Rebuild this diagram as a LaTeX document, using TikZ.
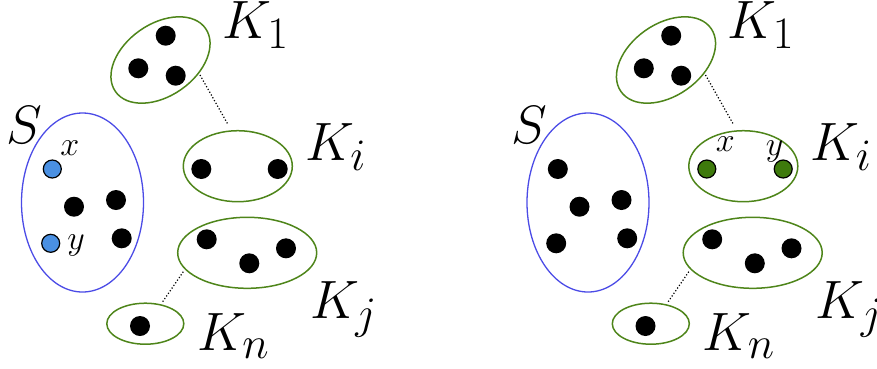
\documentclass[tikz,border=0pt]{standalone}
\usetikzlibrary{shapes.geometric}
\definecolor{setblue}{HTML}{4B4BE6}
\definecolor{kgreen}{HTML}{4E851A}
\definecolor{dotgreen}{HTML}{3E7A0C}
\definecolor{dotblue}{HTML}{4A90E2}
\begin{document}
\begin{tikzpicture}[x=1pt,y=-1pt,
  grp/.style={ellipse, draw=kgreen, line width=1.5pt, inner sep=0pt},
  sset/.style={ellipse, draw=setblue, line width=1.3pt, inner sep=0pt},
  vtx/.style={circle, fill=black, inner sep=0pt, minimum size=20pt},
  bvtx/.style={circle, fill=dotblue, draw=black, line width=1.2pt, inner sep=0pt, minimum size=18pt},
  gvtx/.style={circle, fill=dotgreen, draw=black, line width=1.2pt, inner sep=0pt, minimum size=18pt},
  big/.style={anchor=base west, inner sep=0pt, font=\Huge, scale=2.17},
  small/.style={anchor=base west, inner sep=0pt, font=\LARGE, scale=1.97},
  dots/.style={dotted, line width=1.2pt}]
\useasboundingbox (0,0) rectangle (877,368);
% ---------------- left panel ----------------
\node[sset, minimum width=122pt, minimum height=179pt] (lS) at (82.5,202.5) {};
\node[grp, minimum width=110pt, minimum height=72pt, rotate=35] (lK1) at (160.5,60) {};
\node[grp, minimum width=109pt, minimum height=71pt] (lKi) at (237.8,166.2) {};
\node[grp, minimum width=139pt, minimum height=71pt] (lKj) at (247.2,252.8) {};
\node[grp, minimum width=77pt, minimum height=41pt] (lKn) at (145.3,323.7) {};
\node[big] (lSl) at (6,143) {$S$};
\node[big] (lK1l) at (222,38.3) {$K_1$};
\node[big] (lKil) at (305,160) {$K_i$};
\node[big] (lKjl) at (310,318) {$K_j$};
\node[big] (lKnl) at (197,350) {$K_n$};
\node[small] (lxl) at (60,155) {$x$};
\node[small] (lyl) at (67,249) {$y$};
\node[bvtx] (lx) at (52.3,169) {};
\node[bvtx] (ly) at (50.7,243.3) {};
\node[vtx] (ls1) at (74,206.7) {};
\node[vtx] (ls2) at (116,200) {};
\node[vtx] (ls3) at (121.7,238.3) {};
\node[vtx] (l11) at (165.7,35.7) {};
\node[vtx] (l12) at (138.3,68.3) {};
\node[vtx] (l13) at (175.7,75.7) {};
\node[vtx] (li1) at (201.3,169) {};
\node[vtx] (li2) at (277.7,169) {};
\node[vtx] (lj1) at (206.7,239.3) {};
\node[vtx] (lj2) at (249.3,263.3) {};
\node[vtx] (lj3) at (286,248.3) {};
\node[vtx] (ln1) at (140,326) {};
\coordinate (la1) at (200,75);
\coordinate (la2) at (227.7,124);
\coordinate (lb1) at (183.3,271.7);
\coordinate (lb2) at (162.7,301.7);
\draw[dots] (la1) -- (la2);
\draw[dots] (lb1) -- (lb2);
% ---------------- right panel ----------------
\begin{scope}[xshift=505.5pt]
\node[sset, minimum width=122pt, minimum height=179pt] (rS) at (82.5,202.5) {};
\node[grp, minimum width=110pt, minimum height=72pt, rotate=35] (rK1) at (160.5,60) {};
\node[grp, minimum width=109pt, minimum height=71pt] (rKi) at (237.8,166.2) {};
\node[grp, minimum width=139pt, minimum height=71pt] (rKj) at (247.2,252.8) {};
\node[grp, minimum width=77pt, minimum height=41pt] (rKn) at (145.3,323.7) {};
\node[big] (rSl) at (6,143) {$S$};
\node[big] (rK1l) at (222,38.3) {$K_1$};
\node[big] (rKil) at (305,160) {$K_i$};
\node[big] (rKjl) at (310,318) {$K_j$};
\node[big] (rKnl) at (197,350) {$K_n$};
\node[small] (rxl) at (210,151.7) {$x$};
\node[small] (ryl) at (260,155) {$y$};
\node[vtx] (rs0) at (52.3,169) {};
\node[vtx] (rs4) at (50.7,243.3) {};
\node[vtx] (rs1) at (74,206.7) {};
\node[vtx] (rs2) at (116,200) {};
\node[vtx] (rs3) at (121.7,238.3) {};
\node[vtx] (r11) at (165.7,35.7) {};
\node[vtx] (r12) at (138.3,68.3) {};
\node[vtx] (r13) at (175.7,75.7) {};
\node[gvtx] (rx) at (201.3,169) {};
\node[gvtx] (ry) at (277.7,169) {};
\node[vtx] (rj1) at (206.7,239.3) {};
\node[vtx] (rj2) at (249.3,263.3) {};
\node[vtx] (rj3) at (286,248.3) {};
\node[vtx] (rn1) at (140,326) {};
\coordinate (ra1) at (200,75);
\coordinate (ra2) at (227.7,124);
\coordinate (rb1) at (183.3,271.7);
\coordinate (rb2) at (162.7,301.7);
\draw[dots] (ra1) -- (ra2);
\draw[dots] (rb1) -- (rb2);
\end{scope}
\end{tikzpicture}
\end{document}
